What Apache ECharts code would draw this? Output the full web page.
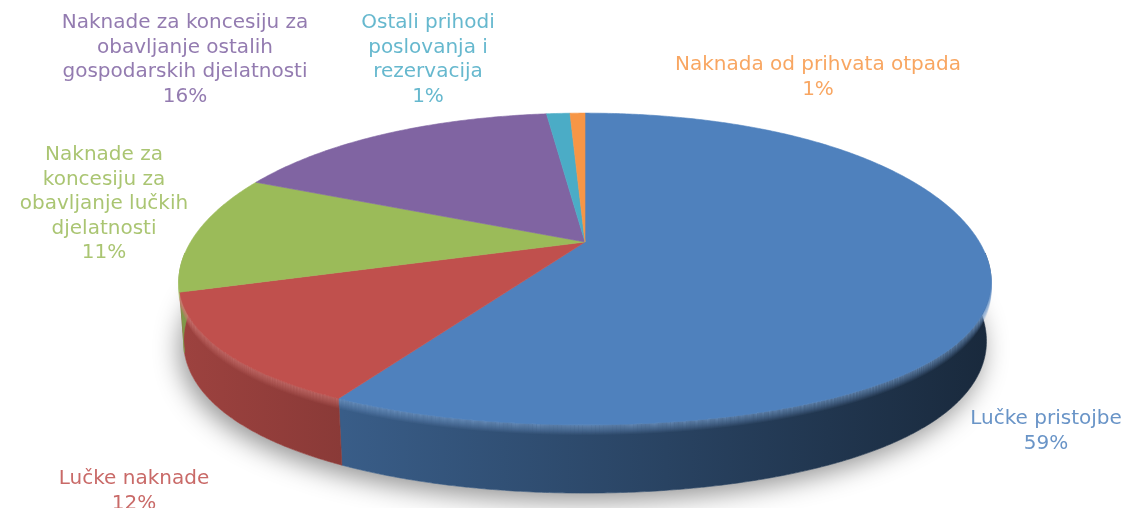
<!DOCTYPE html>
<html>
<head>
<meta charset="utf-8">
<script src="https://cdn.jsdelivr.net/npm/echarts@6.0.0/dist/echarts.min.js"></script>
<style>
  html, body { margin: 0; padding: 0; background: #fff; }
  #chart { width: 1135px; height: 508px; }
</style>
</head>
<body>
<div id="chart"></div>
<script>
const categories = [
  "Lučke pristojbe",
  "Lučke naknade",
  "Naknade za\nkoncesiju za\nobavljanje lučkih\ndjelatnosti",
  "Naknade za koncesiju za\nobavljanje ostalih\ngospodarskih djelatnosti",
  "Ostali prihodi\nposlovanja i\nrezervacija",
  "Naknada od prihvata otpada"
];
const values = [58.8, 12.4, 11.4, 15.6, 1.1, 0.7];
const colors = ["#4f81bd", "#c0504d", "#9bbb59", "#8064a2", "#4bacc6", "#f79646"];

// where each label's first line is centred (layout only)
const labelAnchors = [[1046, 419], [134, 479], [104, 155], [185, 23], [428, 23], [818, 65]];

// perspective view of a tilted disc, with a small extra sag on the near half
const view = { cx: 585, cy: 242, k: 400, sinA: 0.378, cosA: 0.926, dist: 5.35, depth: 0.16, sag: 22 };

function project(theta, Y) {
  const X = Math.sin(theta), Z = -Math.cos(theta);
  const v = Y * view.cosA - Z * view.sinA;
  const w = Z * view.cosA + Y * view.sinA;
  const s = view.dist / (view.dist - w);
  const sag = view.sag * X * X * (1 - Math.cos(theta)) / 2;
  return [view.cx + view.k * X * s, view.cy - view.k * v * s + sag];
}

function rim(t0, t1, Y) {
  const pts = [];
  const n = Math.max(2, Math.ceil((t1 - t0) / (Math.PI / 360)));
  for (let j = 0; j <= n; j++) pts.push(project(t0 + (t1 - t0) * j / n, Y));
  return pts;
}

function rgb(hex) {
  return [1, 3, 5].map(p => parseInt(hex.slice(p, p + 2), 16));
}
function shade(hex, f) {
  const c = rgb(hex).map(x => Math.round(x * f));
  return `rgb(${c[0]},${c[1]},${c[2]})`;
}
function lighten(hex, f) {
  const c = rgb(hex).map(x => Math.round(x + (255 - x) * f));
  return `rgb(${c[0]},${c[1]},${c[2]})`;
}

const total = values.reduce((a, b) => a + b, 0);

function renderItem(params, api) {
  const i = params.dataIndex;
  let before = 0;
  for (let j = 0; j < i; j++) before += values[j];
  const t0 = before / total * 2 * Math.PI;
  const t1 = (before + api.value(0)) / total * 2 * Math.PI;
  const base = colors[i];
  const children = [];

  if (i === 0) {
    children.push({
      type: "polygon", z2: 0,
      shape: { points: rim(0, 2 * Math.PI, -view.depth) },
      style: { fill: "#fff", shadowBlur: 26, shadowColor: "rgba(0,0,0,0.42)", shadowOffsetX: -4, shadowOffsetY: 8 }
    });
  }

  const w0 = Math.max(t0, Math.PI / 2), w1 = Math.min(t1, 3 * Math.PI / 2);
  if (w1 > w0) {
    const top = rim(w0, w1, 0);
    const bottom = rim(w0, w1, -view.depth).reverse();
    const grad = {
      type: "linear", x: 180, y: 0, x2: 990, y2: 0, global: true,
      colorStops: [{ offset: 0, color: shade(base, 0.82) }, { offset: 1, color: shade(base, 0.32) }]
    };
    children.push({
      type: "polygon", z2: 1,
      shape: { points: top.concat(bottom) },
      style: { fill: grad, stroke: grad, lineWidth: 0.6 }
    });
    for (let d = 0; d < 10; d++) {
      children.push({
        type: "polyline", z2: 2, silent: true,
        shape: { points: top.map(p => [p[0], p[1] + d + 0.5]) },
        style: { fill: "none", stroke: lighten(base, 0.22), lineWidth: 1, opacity: 0.75 * (1 - d / 10) }
      });
    }
  }

  children.push({
    type: "polygon", z2: 3,
    shape: { points: [[view.cx, view.cy]].concat(rim(t0, t1, 0)) },
    style: { fill: base, stroke: base, lineWidth: 0.6 }
  });

  const pct = Math.round(api.value(0) / total * 100);
  const [lx, ly] = labelAnchors[i];
  children.push({
    type: "text", z2: 5,
    style: {
      text: categories[i] + "\n" + pct + "%",
      x: lx, y: ly - 12.25,
      fill: base, opacity: 0.85,
      fontFamily: "DejaVu Sans", fontSize: 20, lineHeight: 24.5,
      align: "center", verticalAlign: "top"
    }
  });

  return { type: "group", children };
}

const chart = echarts.init(document.getElementById("chart"));
chart.setOption({
  animation: false,
  backgroundColor: "#fff",
  series: [{
    type: "custom",
    coordinateSystem: "none",
    renderItem,
    data: values.map((v, i) => ({ name: categories[i], value: [v] }))
  }]
});
</script>
</body>
</html>
